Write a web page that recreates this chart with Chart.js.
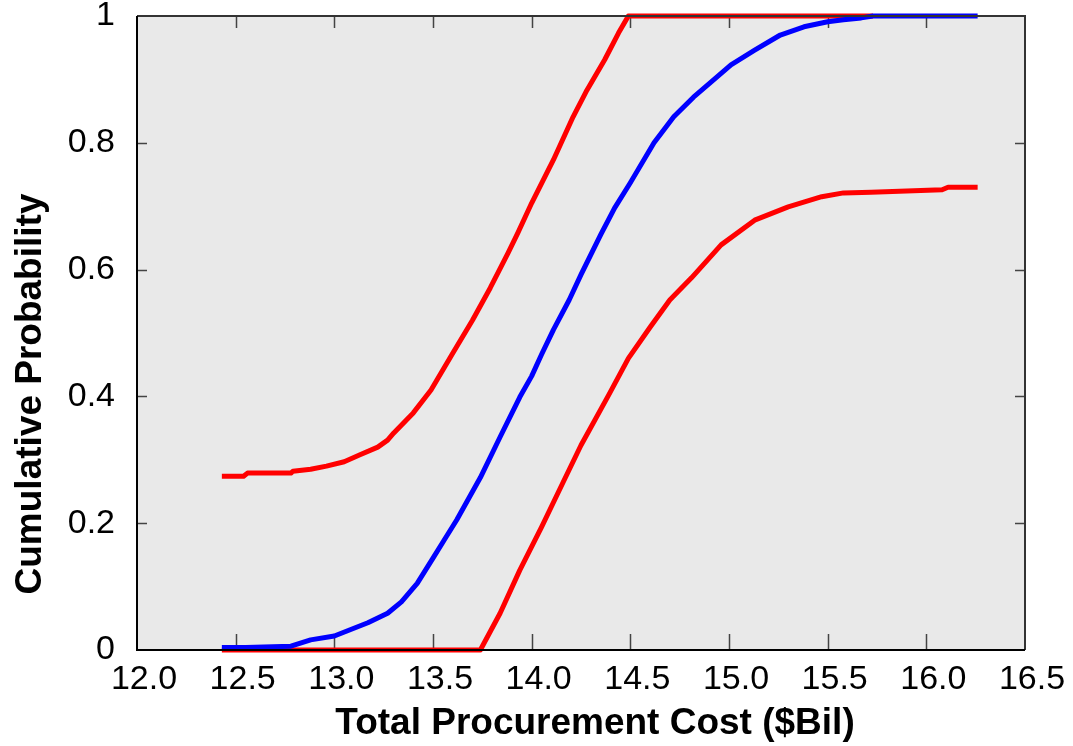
<!DOCTYPE html>
<html>
<head>
<meta charset="utf-8">
<script src="https://cdn.jsdelivr.net/npm/chart.js@4.4.1/dist/chart.umd.min.js"></script>
<style>
  html, body { margin: 0; padding: 0; background: #ffffff; }
  canvas { display: block; }
</style>
</head>
<body>
<canvas id="c" width="1073" height="746"></canvas>
<script>
// ---- data ----
const xTickValues = [12.0, 12.5, 13.0, 13.5, 14.0, 14.5, 15.0, 15.5, 16.0, 16.5];
const yTickValues = [0, 0.2, 0.4, 0.6, 0.8, 1];
const xTitle = 'Total Procurement Cost ($Bil)';
const yTitle = 'Cumulative Probability';

const meanCost = [12.43, 12.55, 12.78, 12.88, 13.00, 13.08, 13.17, 13.27, 13.34, 13.42, 13.50, 13.56, 13.62, 13.74, 13.84, 13.94, 14.00, 14.05, 14.11, 14.19, 14.25, 14.35, 14.42, 14.50, 14.62, 14.72, 14.82, 14.91, 15.01, 15.13, 15.26, 15.38, 15.50, 15.58, 15.67, 15.73, 16.26];
const meanProb = [0.004, 0.004, 0.006, 0.016, 0.022, 0.032, 0.043, 0.058, 0.076, 0.105, 0.145, 0.175, 0.205, 0.272, 0.336, 0.399, 0.432, 0.466, 0.505, 0.552, 0.592, 0.655, 0.697, 0.737, 0.800, 0.841, 0.872, 0.896, 0.923, 0.946, 0.970, 0.983, 0.991, 0.994, 0.997, 1.0, 1.0];

const upperCost = [12.43, 12.54, 12.56, 12.78, 12.79, 12.88, 12.96, 13.05, 13.13, 13.22, 13.27, 13.30, 13.40, 13.49, 13.60, 13.70, 13.79, 13.88, 13.93, 14.00, 14.11, 14.21, 14.28, 14.37, 14.44, 14.49, 15.73];
const upperProb = [0.274, 0.274, 0.279, 0.279, 0.282, 0.285, 0.290, 0.297, 0.308, 0.320, 0.331, 0.342, 0.374, 0.410, 0.468, 0.520, 0.571, 0.626, 0.658, 0.705, 0.773, 0.841, 0.883, 0.931, 0.973, 1.0, 1.0];

const lowerCost = [12.43, 13.74, 13.84, 13.94, 14.05, 14.16, 14.25, 14.39, 14.49, 14.60, 14.70, 14.81, 14.96, 15.13, 15.30, 15.47, 15.58, 15.72, 16.08, 16.11, 16.26];
const lowerProb = [0.0, 0.0, 0.058, 0.126, 0.194, 0.265, 0.323, 0.402, 0.460, 0.509, 0.552, 0.587, 0.639, 0.678, 0.699, 0.715, 0.721, 0.722, 0.726, 0.730, 0.730];

const toPoints = (xs, ys) => xs.map((x, i) => ({ x: x, y: ys[i] }));

const FONT = "'Liberation Sans', Arial, Helvetica, sans-serif";

// plot-area background, frame, inward tick marks and axis titles
const framePlugin = {
  id: 'frame',
  beforeDatasetsDraw(chart) {
    const { ctx, chartArea: a } = chart;
    ctx.save();
    ctx.fillStyle = '#e9e9e9';
    ctx.fillRect(a.left, a.top, a.right - a.left, a.bottom - a.top);
    const xs = chart.scales.x, ys = chart.scales.y;
    ctx.strokeStyle = '#444444';
    ctx.lineWidth = 1.5;
    ctx.beginPath();
    xTickValues.forEach(v => {
      const px = Math.round(xs.getPixelForValue(v)) + 0.5;
      if (v > xs.min && v < xs.max) {
        ctx.moveTo(px, a.bottom); ctx.lineTo(px, a.bottom - 16);
        ctx.moveTo(px, a.top); ctx.lineTo(px, a.top + 12);
      }
    });
    yTickValues.forEach(v => {
      const py = Math.round(ys.getPixelForValue(v)) + 0.5;
      if (v > ys.min && v < ys.max) {
        ctx.moveTo(a.left, py); ctx.lineTo(a.left + 10, py);
        ctx.moveTo(a.right, py); ctx.lineTo(a.right - 10, py);
      }
    });
    ctx.stroke();
    ctx.restore();
  },
  afterDatasetsDraw(chart) {
    const { ctx, chartArea: a } = chart;
    ctx.save();
    ctx.lineWidth = 2;
    ctx.strokeStyle = '#333333';
    ctx.beginPath();
    ctx.moveTo(a.left, a.top); ctx.lineTo(a.right, a.top); ctx.lineTo(a.right, a.bottom);
    ctx.stroke();
    ctx.strokeStyle = '#000000';
    ctx.beginPath();
    ctx.moveTo(a.left, a.top); ctx.lineTo(a.left, a.bottom); ctx.lineTo(a.right, a.bottom);
    ctx.stroke();

    // axis titles
    ctx.fillStyle = '#000000';
    ctx.font = "bold 37px " + FONT;
    ctx.textAlign = 'center';
    ctx.textBaseline = 'alphabetic';
    ctx.fillText(xTitle, 595, 734);
    ctx.translate(41, 394);
    ctx.rotate(-Math.PI / 2);
    ctx.fillText(yTitle, 0, 0);
    ctx.restore();
  }
};

new Chart(document.getElementById('c'), {
  type: 'line',
  data: {
    datasets: [
      { label: 'Mean', data: toPoints(meanCost, meanProb), borderColor: '#0000ff', borderWidth: 5, clip: 6 },
      { label: 'Upper', data: toPoints(upperCost, upperProb), borderColor: '#ff0000', borderWidth: 5, clip: 6 },
      { label: 'Lower', data: toPoints(lowerCost, lowerProb), borderColor: '#ff0000', borderWidth: 5, clip: 6 }
    ]
  },
  options: {
    responsive: false,
    animation: false,
    elements: { point: { radius: 0 }, line: { tension: 0, borderCapStyle: 'butt', borderJoinStyle: 'round' } },
    layout: { padding: { top: 16, right: 48, left: 0, bottom: 0 } },
    plugins: { legend: { display: false }, tooltip: { enabled: false } },
    scales: {
      x: {
        type: 'linear',
        min: 12, max: 16.5,
        afterBuildTicks: s => { s.ticks = xTickValues.map(v => ({ value: v })); },
        afterFit: s => { s.height = 96; s.paddingLeft = 0; s.paddingRight = 0; },
        grid: { display: false, drawTicks: false },
        border: { display: false },
        ticks: {
          color: '#000000',
          font: { family: FONT, size: 34 },
          padding: 9,
          labelOffset: 7,
          maxRotation: 0,
          autoSkip: false,
          callback: v => Number(v).toFixed(1)
        },
        title: { display: false }
      },
      y: {
        type: 'linear',
        min: 0, max: 1,
        afterBuildTicks: s => { s.ticks = yTickValues.map(v => ({ value: v })); },
        afterFit: s => { s.width = 137; s.paddingTop = 0; s.paddingBottom = 0; },
        grid: { display: false, drawTicks: false },
        border: { display: false },
        ticks: {
          color: '#000000',
          font: { family: FONT, size: 34 },
          padding: 22,
          autoSkip: false,
          callback: v => String(Math.round(v * 10) / 10)
        },
        title: { display: false }
      }
    }
  },
  plugins: [framePlugin]
});
</script>
</body>
</html>
